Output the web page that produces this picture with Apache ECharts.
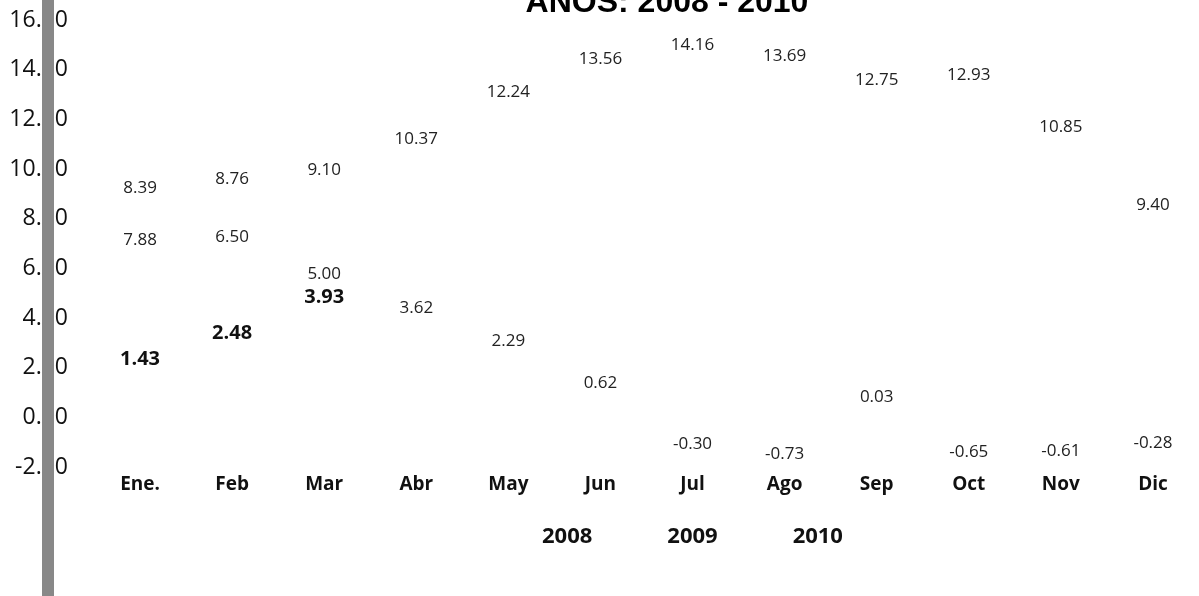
<!DOCTYPE html>
<html>
<head>
<meta charset="utf-8">
<script src="https://cdn.jsdelivr.net/npm/echarts@6/dist/echarts.min.js"></script>
<style>
  html, body { margin: 0; padding: 0; background: #fff; }
  #main { width: 1199px; height: 596px; }
</style>
</head>
<body>
<div id="main"></div>
<script>
// meses
const months = ["Ene.", "Feb", "Mar", "Abr", "May", "Jun", "Jul", "Ago", "Sep", "Oct", "Nov", "Dic"];

// valores por año
const v2008 = [8.39, 8.76, 9.10, 10.37, 12.24, 13.56, 14.16, 13.69, 12.75, 12.93, 10.85, 9.40];
const v2009 = [7.88, 6.50, 5.00, 3.62, 2.29, 0.62, -0.30, -0.73, 0.03, -0.65, -0.61, -0.28];
const v2010 = [1.43, 2.48, 3.93];

const yTicks = { min: -2, max: 16, interval: 2 };

const font = "'Open Sans', 'Noto Sans', sans-serif";

const chart = echarts.init(document.getElementById("main"));

// serie sin línea ni marcadores, solo etiquetas
const hidden = {
  type: "line",
  symbol: "circle",
  symbolSize: 1,
  lineStyle: { opacity: 0 },
  itemStyle: { color: "rgba(0,0,0,0)" },
  emphasis: { disabled: true },
  silent: true,
};

const fmt = (p) => p.value.toFixed(2);

const option = {
  backgroundColor: "#fff",
  animation: false,
  title: {
    text: "AÑOS: 2008 - 2010",
    left: 662,
    textAlign: "center",
    top: -18,
    textStyle: { fontFamily: "'Liberation Sans', Arial, sans-serif", fontWeight: "bold", fontSize: 32, color: "#000" },
  },
  legend: {
    bottom: 43,
    left: 532,
    icon: "none",
    itemWidth: 0,
    itemGap: 70,
    data: ["2008", "2009", "2010"],
    textStyle: { fontFamily: font, fontWeight: "bold", fontSize: 22, color: "#111" },
  },
  grid: { left: 94, right: 0, top: 20, bottom: 129 },
  xAxis: {
    type: "category",
    data: months,
    axisLine: { show: false },
    axisTick: { show: false },
    axisLabel: { fontFamily: font, fontWeight: "bold", fontSize: 19, color: "#111", margin: 8 },
  },
  yAxis: {
    type: "value",
    min: yTicks.min,
    max: yTicks.max,
    interval: yTicks.interval,
    splitLine: { show: false },
    axisLine: { show: false },
    axisTick: { show: false },
    axisLabel: {
      fontFamily: font,
      fontSize: 23,
      color: "#111",
      margin: 26,
      formatter: (v) => v.toFixed(2),
    },
  },
  // barra gris vertical
  graphic: [
    { type: "rect", left: 42, top: 0, shape: { width: 12, height: 596 }, style: { fill: "#888" }, z: 100 },
  ],
  series: [
    {
      ...hidden,
      name: "2008",
      data: v2008.map((v, i) => ({
        value: v,
        label: { position: i === v2008.length - 1 ? "bottom" : "top" },
      })),
      label: { show: true, position: "top", distance: 12, formatter: fmt, fontFamily: font, fontSize: 17, color: "#222" },
    },
    {
      ...hidden,
      name: "2009",
      data: v2009.map((v, i) => ({
        value: v,
        label: { position: v < 0 || i === 0 ? "bottom" : "top" },
      })),
      label: { show: true, position: "top", distance: 10, formatter: fmt, fontFamily: font, fontSize: 17, color: "#222" },
    },
    {
      ...hidden,
      name: "2010",
      data: v2010,
      label: { show: true, position: "top", distance: 12, formatter: fmt, fontFamily: font, fontWeight: "bold", fontSize: 20, color: "#111" },
    },
  ],
};

chart.setOption(option);
</script>
</body>
</html>
